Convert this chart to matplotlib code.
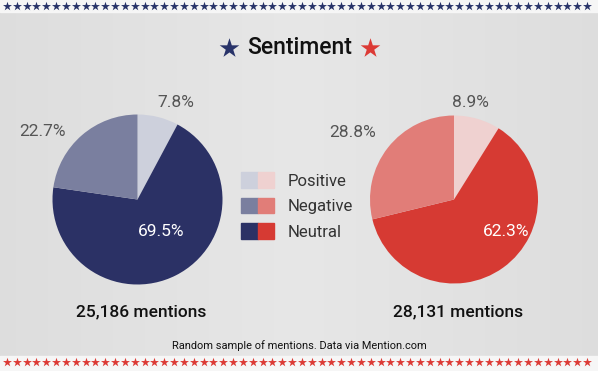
import matplotlib
matplotlib.use("Agg")
import matplotlib.pyplot as plt
from matplotlib.patches import Patch
from matplotlib.legend_handler import HandlerTuple
import numpy as np

plt.rcParams['font.family'] = ['Roboto', 'DejaVu Sans']

# data
categories = ["Positive", "Neutral", "Negative"]
left_vals = [7.8, 69.5, 22.7]
right_vals = [8.9, 62.3, 28.8]
left_total = "25,186 mentions"
right_total = "28,131 mentions"
title = "Sentiment"
note = "Random sample of mentions. Data via Mention.com"

blues = ["#cdd0dc", "#2b3165", "#7a7f9f"]
reds = ["#efd1d0", "#d63a33", "#e17d78"]
navy = "#283369"
red = "#dc3a35"

W, H = 598, 371
fig = plt.figure(figsize=(W / 100, H / 100), dpi=100)

# background with pixel coordinates
bg = fig.add_axes([0, 0, 1, 1])
bg.set_xlim(0, W)
bg.set_ylim(H, 0)
bg.axis("off")
grad = np.outer(np.ones(10), 1 - 0.04 * np.abs(np.linspace(-1, 1, 200)))
bg.imshow(np.dstack([0.905 * grad] * 3 + [np.ones_like(grad)]),
          extent=[0, W, 356, 12], aspect="auto", zorder=0)
bg.axhspan(0, 12, color="#f6f6f6", zorder=0)
bg.axhspan(356, H, color="#f6f6f6", zorder=0)

n_stars = 60
star_x = np.linspace(7, 587, n_stars)
bg.scatter(star_x, np.full(n_stars, 6), marker="*", s=46, color=navy, lw=0, zorder=2)
bg.scatter(star_x, np.full(n_stars, 362), marker="*", s=46, color=red, lw=0, zorder=2)

bg.text(300, 48, title, ha="center", va="center", fontsize=16.5,
        fontweight="medium", color="#111111")
bg.scatter([229], [48], marker="*", s=220, color=navy, lw=0)
bg.scatter([370], [48], marker="*", s=220, color=red, lw=0)
bg.text(299, 346, note, ha="center", va="center", fontsize=7.9, color="#111111")


def draw_pie(cx, cy, r, vals, colors, total, label_pos):
    ax = fig.add_axes([(cx - r) / W, (H - cy - r) / H, 2 * r / W, 2 * r / H])
    ax.pie(vals, colors=colors, startangle=90, counterclock=False,
           wedgeprops=dict(linewidth=0))
    ax.set_xlim(-1, 1)
    ax.set_ylim(-1, 1)
    ax.axis("off")
    for v, (lx, ly), c in zip(vals, label_pos, ["#555555", "white", "#555555"]):
        ax.text(lx, ly, f"{v}%", ha="center", va="center", fontsize=12.5,
                color=c, clip_on=False)
    bg.text(cx + 4, 312, total, ha="center", va="center", fontsize=12.5,
            fontweight="medium", color="#111111")


draw_pie(137.5, 199.5, 85, left_vals, blues, left_total,
         [(0.45, 1.14), (0.28, -0.38), (-1.12, 0.8)])
draw_pie(454, 199.5, 84, right_vals, reds, right_total,
         [(0.19, 1.15), (0.62, -0.38), (-1.21, 0.8)])

handles = [(Patch(color=b), Patch(color=r)) for b, r in
           zip([blues[0], blues[2], blues[1]], [reds[0], reds[2], reds[1]])]
labels = ["Positive", "Negative", "Neutral"]
bg.legend(handles, labels, handler_map={tuple: HandlerTuple(ndivide=None, pad=0)},
          loc="center left", bbox_to_anchor=(226 / W, 1 - 206 / H),
          frameon=False, fontsize=12, handlelength=2.0, handleheight=1.05,
          handletextpad=0.8, labelspacing=0.55, labelcolor="#333333")

fig.savefig("out.png", dpi=100)
